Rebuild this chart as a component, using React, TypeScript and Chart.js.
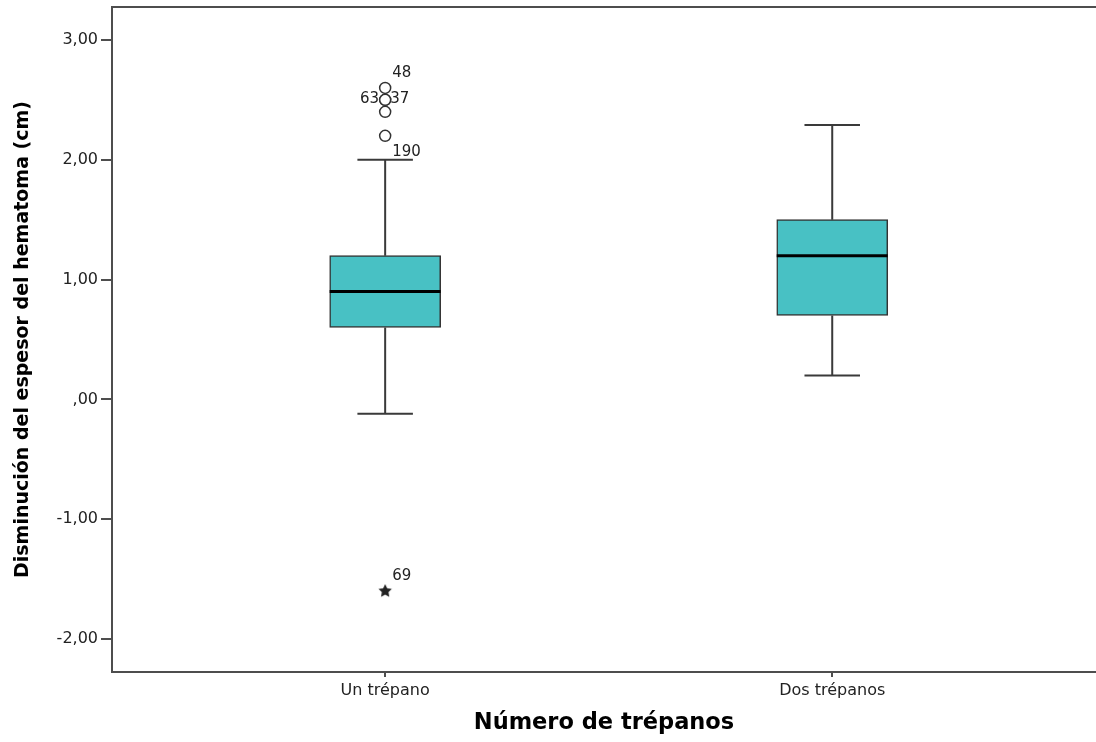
import { useEffect, useRef } from 'react';
import { Chart, registerables } from 'chart.js';

Chart.register(...registerables);

// Groups on the horizontal axis
const categories = ['Un trépano', 'Dos trépanos'];
const groupPositions = [1, 2];

// Box-plot summary per group
const q1 = [0.6, 0.7];
const q3 = [1.2, 1.5];
const medians = [0.9, 1.2];
const whiskerLow = [-0.12, 0.2];
const whiskerHigh = [2.0, 2.29];

// Outliers (circles) with case numbers
const outlierGroup = [1, 1, 1, 1, 1];
const outlierValues = [2.6, 2.5, 2.5, 2.4, 2.2];
const outlierCases = ['48', '63', '37', '', '190'];
const outlierPlacement = ['above', 'left', 'right', 'none', 'below'];

// Extreme values (stars) with case numbers
const extremeGroup = [1];
const extremeValues = [-1.6];
const extremeCases = ['69'];
const extremePlacement = ['above'];

// Vertical axis
const yTickValues = [-2, -1, 0, 1, 2, 3];
const yTickLabels = ['-2,00', '-1,00', ',00', '1,00', '2,00', '3,00'];
const yMin = -2.275;
const yMax = 3.275;
const xMin = 0.389;
const xMax = 2.59;

const yTitle = 'Disminución del espesor del hematoma (cm)';
const xTitle = 'Número de trépanos';

const BOX_FILL = '#48c1c4';
const LINE = '#3a3a3a';
const AXIS = '#4e4e4e';
const TEXT = '#222222';

function makeStar(r: number): HTMLCanvasElement {
  const size = Math.ceil(r * 2 + 2);
  const c = document.createElement('canvas');
  c.width = size;
  c.height = size;
  const g = c.getContext('2d')!;
  g.fillStyle = '#222';
  g.beginPath();
  for (let i = 0; i < 10; i++) {
    const rad = i % 2 === 0 ? r : r * 0.5;
    const a = -Math.PI / 2 + (i * Math.PI) / 5;
    g.lineTo(size / 2 + rad * Math.cos(a), size / 2 + rad * Math.sin(a));
  }
  g.closePath();
  g.fill();
  return c;
}

function drawCaseLabel(ctx: CanvasRenderingContext2D, text: string, px: number, py: number, place: string) {
  if (!text || place === 'none') return;
  ctx.textBaseline = 'middle';
  if (place === 'left') {
    ctx.textAlign = 'right';
    ctx.fillText(text, px - 6, py - 1);
  } else if (place === 'right') {
    ctx.textAlign = 'left';
    ctx.fillText(text, px + 5, py - 1);
  } else if (place === 'above') {
    ctx.textAlign = 'left';
    ctx.fillText(text, px + 7, py - 15);
  } else if (place === 'below') {
    ctx.textAlign = 'left';
    ctx.fillText(text, px + 7, py + 16);
  }
}

const boxPlotPlugin = {
  id: 'boxWhiskers',
  afterDatasetsDraw(chart: any) {
    const { ctx } = chart;
    const y = chart.scales.y;
    const boxes = chart.getDatasetMeta(0);
    ctx.save();
    boxes.data.forEach((bar: any, i: number) => {
      const cx = bar.x;
      const half = bar.width / 2;
      const cap = bar.width / 4;
      const yQ1 = y.getPixelForValue(q1[i]);
      const yQ3 = y.getPixelForValue(q3[i]);
      const yLo = y.getPixelForValue(whiskerLow[i]);
      const yHi = y.getPixelForValue(whiskerHigh[i]);
      const yMed = y.getPixelForValue(medians[i]);

      ctx.strokeStyle = LINE;
      ctx.lineWidth = 2;
      ctx.beginPath();
      ctx.moveTo(cx, yQ3);
      ctx.lineTo(cx, yHi);
      ctx.moveTo(cx - cap, yHi);
      ctx.lineTo(cx + cap, yHi);
      ctx.moveTo(cx, yQ1);
      ctx.lineTo(cx, yLo);
      ctx.moveTo(cx - cap, yLo);
      ctx.lineTo(cx + cap, yLo);
      ctx.stroke();

      ctx.strokeStyle = '#000';
      ctx.lineWidth = 3;
      ctx.beginPath();
      ctx.moveTo(cx - half, yMed);
      ctx.lineTo(cx + half, yMed);
      ctx.stroke();
    });

    ctx.fillStyle = TEXT;
    ctx.font = '15px "DejaVu Sans"';
    chart.getDatasetMeta(1).data.forEach((pt: any, i: number) => {
      drawCaseLabel(ctx, outlierCases[i], pt.x, pt.y, outlierPlacement[i]);
    });
    chart.getDatasetMeta(2).data.forEach((pt: any, i: number) => {
      drawCaseLabel(ctx, extremeCases[i], pt.x, pt.y, extremePlacement[i]);
    });
    ctx.restore();
  },
  afterDraw(chart: any) {
    const { ctx, chartArea } = chart;
    ctx.save();
    ctx.strokeStyle = AXIS;
    ctx.lineWidth = 2;
    ctx.beginPath();
    ctx.moveTo(chartArea.left - 1, chartArea.top);
    ctx.lineTo(chartArea.right, chartArea.top);
    ctx.stroke();
    ctx.restore();
  },
};

export default function App() {
  const canvasRef = useRef<HTMLCanvasElement | null>(null);

  useEffect(() => {
    const canvas = canvasRef.current;
    if (!canvas) return;
    const star = makeStar(7);

    const chart = new Chart(canvas, {
      type: 'bar',
      data: {
        datasets: [
          {
            type: 'bar',
            label: 'Caja',
            data: groupPositions.map((x, i) => ({ x, y: [q1[i], q3[i]] })) as any,
            backgroundColor: BOX_FILL,
            borderColor: '#333',
            borderWidth: 1.5,
            borderSkipped: false,
            barThickness: 111,
          },
          {
            type: 'scatter',
            label: 'Atípicos',
            data: outlierValues.map((v, i) => ({ x: outlierGroup[i], y: v })),
            pointStyle: 'circle',
            pointRadius: 5.5,
            backgroundColor: '#fff',
            borderColor: '#333',
            borderWidth: 1.5,
          },
          {
            type: 'scatter',
            label: 'Extremos',
            data: extremeValues.map((v, i) => ({ x: extremeGroup[i], y: v })),
            pointStyle: star as any,
            pointRadius: 7,
          },
        ] as any,
      },
      options: {
        responsive: false,
        animation: false,
        events: [],
        layout: { autoPadding: false, padding: { top: 7, left: 0, right: 0, bottom: 0 } },
        plugins: {
          legend: { display: false },
          tooltip: { enabled: false },
        },
        scales: {
          x: {
            type: 'linear',
            min: xMin,
            max: xMax,
            offset: false,
            afterBuildTicks: (scale: any) => {
              scale.ticks = groupPositions.map((v) => ({ value: v }));
            },
            afterFit: (scale: any) => {
              scale.height = 70;
              scale.paddingLeft = 0;
              scale.paddingRight = 0;
            },
            ticks: {
              autoSkip: false,
              maxRotation: 0,
              padding: 4,
              color: TEXT,
              font: { family: '"DejaVu Sans"', size: 16 },
              callback: (value: any) => categories[groupPositions.indexOf(Number(value))] ?? '',
            },
            grid: { drawOnChartArea: false, offset: false, tickLength: 5, color: AXIS, lineWidth: 2 },
            border: { display: true, color: AXIS, width: 2 },
            title: {
              display: true,
              text: xTitle,
              color: '#000',
              font: { family: '"DejaVu Sans"', size: 22.5, weight: 'bold' },
              padding: { top: 0, bottom: 5 },
            },
          },
          y: {
            type: 'linear',
            min: yMin,
            max: yMax,
            afterBuildTicks: (scale: any) => {
              scale.ticks = yTickValues.map((v) => ({ value: v }));
            },
            afterFit: (scale: any) => {
              scale.width = 112;
              scale.paddingTop = 0;
              scale.paddingBottom = 0;
            },
            ticks: {
              padding: 3,
              color: TEXT,
              font: { family: '"DejaVu Sans"', size: 16 },
              callback: (value: any) => yTickLabels[yTickValues.indexOf(Number(value))] ?? '',
            },
            grid: { drawOnChartArea: false, tickLength: 11, color: AXIS, lineWidth: 2 },
            border: { display: true, color: AXIS, width: 2 },
            title: {
              display: true,
              text: yTitle,
              color: '#000',
              font: { family: '"DejaVu Sans"', size: 19, weight: 'bold' },
              padding: { top: 12, bottom: 0 },
            },
          },
        },
      },
      plugins: [boxPlotPlugin],
    });

    return () => chart.destroy();
  }, []);

  return (
    <div style={{ position: 'absolute', left: 0, top: 0, width: 1096, height: 742, background: '#fff' }}>
      <canvas ref={canvasRef} width={1096} height={742} style={{ display: 'block' }} />
    </div>
  );
}
